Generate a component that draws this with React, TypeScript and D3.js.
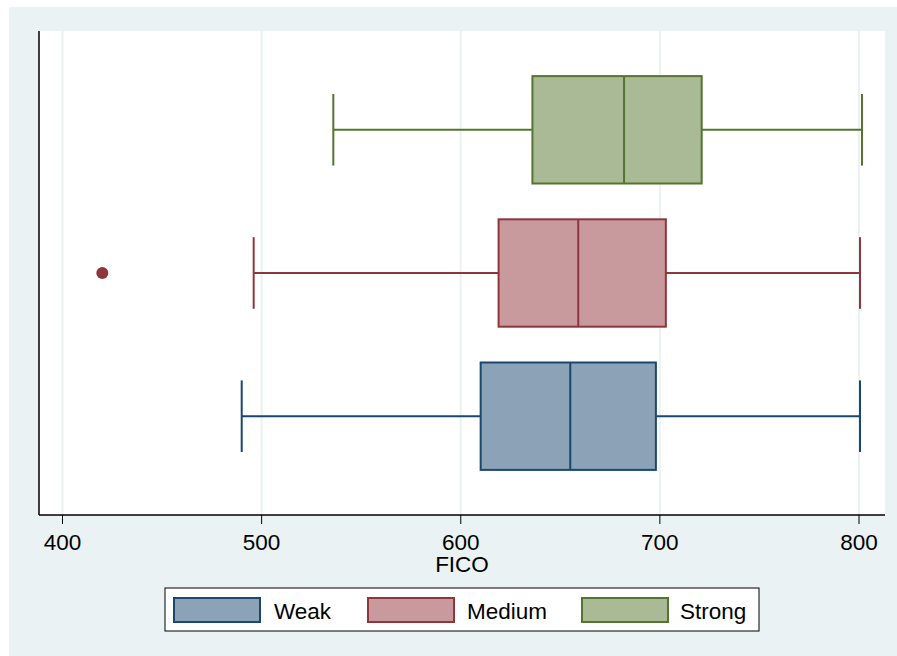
import React from "react";
import * as d3 from "d3";

const categories = ["Weak", "Medium", "Strong"];
const whiskerLow = [490, 496, 536];
const q1 = [610, 619, 636];
const median = [655, 659, 682];
const q3 = [698, 703, 721];
const whiskerHigh = [800.5, 800.5, 801.5];
const outlierCats = ["Medium"];
const outlierValues = [420];
const xTicks = [400, 500, 600, 700, 800];
const strokeColors = ["#1A476F", "#90353B", "#55752F"];
const fillColors = ["#8CA3B7", "#C89A9D", "#AABA97"];

const W = 897;
const H = 656;
const FONT = "Arial, 'Liberation Sans', Helvetica, sans-serif";

export default function App() {
  const plotL = 39, plotR = 885, plotT = 31, plotB = 515;
  const x = d3.scaleLinear().domain([400, 800]).range([62.5, 859]);
  const y = d3
    .scaleBand<string>()
    .domain(["Strong", "Medium", "Weak"])
    .range([plotT, plotB])
    .paddingInner(0.25)
    .paddingOuter(0.315);
  const bw = y.bandwidth();
  const step = y.step();
  const capH = step * 0.5;

  const legendX = 165, legendY = 588, legendW = 594, legendH = 43;
  const keyXs = [174, 368, 582];
  const textXs = [274, 467, 680];

  return (
    <svg
      width={W}
      height={H}
      style={{ position: "absolute", left: 0, top: 0, display: "block" }}
      fontFamily={FONT}
    >
      <rect x={0} y={0} width={W} height={H} fill="#FFFFFF" />
      <rect x={9} y={7} width={W - 9} height={H - 7} fill="#EAF2F3" />
      <rect x={plotL} y={plotT} width={plotR - plotL} height={plotB - plotT} fill="#FFFFFF" />
      {xTicks.map((t) => (
        <line key={"g" + t} x1={x(t)} x2={x(t)} y1={plotT} y2={plotB} stroke="#EAF2F3" strokeWidth={2} />
      ))}
      {categories.map((c, i) => {
        const yc = (y(c) as number) + bw / 2;
        const top = y(c) as number;
        return (
          <g key={c} stroke={strokeColors[i]} strokeWidth={2}>
            <line x1={x(whiskerLow[i])} x2={x(q1[i])} y1={yc} y2={yc} />
            <line x1={x(q3[i])} x2={x(whiskerHigh[i])} y1={yc} y2={yc} />
            <line x1={x(whiskerLow[i])} x2={x(whiskerLow[i])} y1={yc - capH / 2} y2={yc + capH / 2} />
            <line x1={x(whiskerHigh[i])} x2={x(whiskerHigh[i])} y1={yc - capH / 2} y2={yc + capH / 2} />
            <rect x={x(q1[i])} y={top} width={x(q3[i]) - x(q1[i])} height={bw} fill={fillColors[i]} />
            <line x1={x(median[i])} x2={x(median[i])} y1={top} y2={top + bw} />
          </g>
        );
      })}
      {outlierValues.map((v, k) => {
        const i = categories.indexOf(outlierCats[k]);
        const yc = (y(outlierCats[k]) as number) + bw / 2;
        return <circle key={"o" + k} cx={x(v)} cy={yc} r={6} fill={strokeColors[i]} />;
      })}
      <line x1={plotL} x2={plotL} y1={plotT} y2={plotB} stroke="#000" strokeWidth={1.5} />
      <line x1={plotL} x2={plotR} y1={plotB} y2={plotB} stroke="#000" strokeWidth={1.5} />
      {xTicks.map((t) => (
        <g key={"t" + t}>
          <line x1={x(t)} x2={x(t)} y1={plotB} y2={plotB + 9} stroke="#000" strokeWidth={1} />
          <text x={x(t)} y={550} textAnchor="middle" fontSize={22.5} fill="#000">
            {t}
          </text>
        </g>
      ))}
      <text x={(plotL + plotR) / 2} y={572} textAnchor="middle" fontSize={22.5} fill="#000">
        FICO
      </text>
      <rect x={legendX} y={legendY} width={legendW} height={legendH} fill="#FFFFFF" stroke="#000" strokeWidth={1} />
      {categories.map((c, i) => (
        <g key={"l" + c}>
          <rect x={keyXs[i]} y={598} width={86} height={24} fill={fillColors[i]} stroke={strokeColors[i]} strokeWidth={2} />
          <text x={textXs[i]} y={619} fontSize={22.5} fill="#000">
            {c}
          </text>
        </g>
      ))}
    </svg>
  );
}
